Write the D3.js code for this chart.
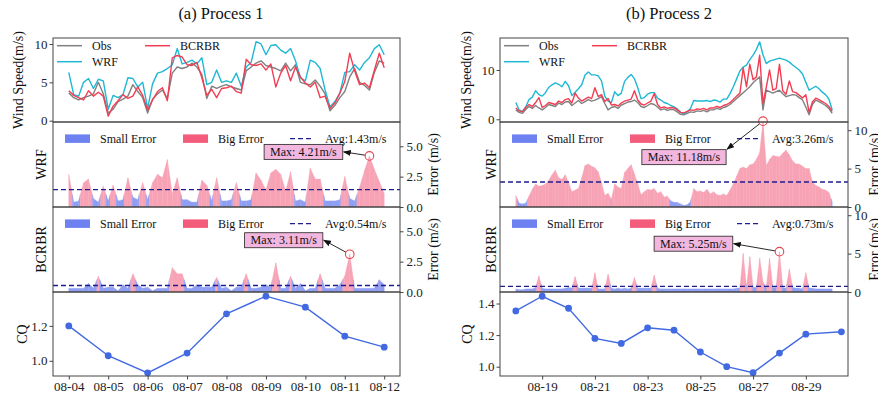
<!DOCTYPE html>
<html lang='en'>
<head>
	<meta charset='UTF-8'>
	<title>Process 1 / Process 2</title>
	<style>
		body { margin: 0; background: #fff; }
	</style>
</head>
<body>

<svg></svg>

<script src='https://d3js.org/d3.v7.min.js'></script>
<script>
// ---- data (3-hourly wind speed, m/s) ----
const startA = '2021-08-04 00:00'
const obsA = [3.6,3.0,2.7,3.0,3.2,3.5,5.0,3.5,1.0,1.5,2.5,2.8,3.2,4.7,3.8,3.0,1.0,2.8,3.5,4.0,2.9,6.2,7.0,6.8,7.0,
    7.5,7.0,6.0,2.9,4.5,4.2,4.5,4.7,4.4,4.2,4.0,6.5,7.0,7.5,7.8,7.2,7.0,6.8,6.5,7.5,6.5,7.3,5.0,4.8,
    4.7,5.3,4.5,3.5,1.3,2.0,3.0,3.8,5.7,6.8,5.0,4.6,4.0,6.3,7.8,7.5]
const wrfA = [6.3,3.4,3.2,5.0,5.5,4.2,5.4,5.2,1.5,3.3,3.0,3.4,5.6,5.5,4.4,5.0,1.6,4.8,6.2,6.4,6.8,7.3,9.4,7.4,7.6,
    7.9,7.4,8.2,4.7,5.0,6.6,5.0,5.2,5.0,6.2,4.5,7.0,7.6,10.3,10.0,8.6,9.8,9.9,9.2,8.8,9.4,7.8,5.6,5.2,
    7.9,7.6,6.8,4.0,1.8,2.5,3.6,6.3,6.4,7.3,6.6,7.6,8.2,9.4,9.9,8.6]
const bcrbrA = [3.9,3.3,3.0,2.7,3.9,3.2,3.7,3.2,0.6,1.9,2.6,3.4,2.9,3.2,4.4,3.3,1.4,2.7,3.8,4.3,2.6,8.2,8.5,8.3,7.3,
    7.2,7.6,5.6,3.3,4.1,3.0,4.2,4.3,4.5,3.8,3.6,8.0,7.3,7.2,7.4,6.6,7.4,4.4,6.2,7.2,5.2,7.0,5.7,4.9,
    4.4,5.0,3.0,3.2,1.6,2.3,3.6,5.1,8.8,6.5,4.7,4.9,4.3,6.6,8.8,6.9]

const startB = '2021-08-18 00:00'
const obsB = [1.9,1.4,1.2,2.0,2.6,2.2,2.8,2.3,1.9,2.4,
    3.0,2.8,2.6,3.3,3.0,3.5,3.6,2.8,3.3,3.8,
    3.2,3.6,4.0,3.7,3.9,4.2,4.6,3.2,1.9,2.4,
    2.6,2.2,2.9,3.2,3.5,3.6,3.9,3.4,2.6,2.4,
    2.8,3.2,3.0,2.5,1.9,2.1,1.8,2.0,1.9,1.5,
    1.0,0.9,1.2,1.5,1.4,1.7,1.6,1.8,1.5,1.9,
    1.9,2.2,2.0,2.4,2.6,3.0,3.6,4.2,4.8,5.4,
    6.0,6.6,7.4,8.0,8.6,1.9,5.9,5.6,5.3,5.6,
    5.9,5.2,4.6,4.8,5.0,4.9,4.4,3.9,2.5,0.9,
    3.0,3.9,3.6,3.2,2.8,2.2,1.2]
const wrfB = [3.4,1.9,1.6,2.5,4.0,4.5,5.8,5.0,4.7,5.4,
    6.5,7.0,7.4,7.1,6.6,7.7,6.8,4.8,5.5,6.2,
    7.0,9.0,9.6,9.0,9.0,8.8,7.8,4.7,3.7,3.4,
    5.6,4.8,5.3,7.7,8.5,9.1,8.2,6.4,4.2,4.4,
    5.1,5.4,5.4,4.3,3.9,3.4,3.2,2.8,2.5,2.1,
    1.4,1.1,1.5,2.2,3.8,3.7,3.7,3.7,3.8,3.6,
    3.9,3.8,3.5,4.1,4.1,5.2,6.6,8.2,9.8,10.6,
    11.0,12.1,13.0,14.2,15.7,13.1,11.3,11.8,12.0,12.2,
    12.4,12.2,12.0,11.6,11.0,10.5,10.0,9.2,7.5,5.9,
    6.3,6.7,6.2,5.5,5.0,4.1,1.9]
const bcrbrB = [2.3,1.7,1.5,2.4,3.0,2.6,3.4,4.4,2.4,2.8,
    3.4,3.2,3.0,3.7,3.4,4.0,4.2,3.3,5.3,4.3,
    3.7,4.1,4.5,4.2,6.4,4.6,5.0,3.6,4.2,2.9,
    3.0,2.7,3.3,3.7,3.9,4.1,5.8,3.9,3.1,2.9,
    3.3,3.7,5.2,3.0,2.3,2.5,2.2,2.4,2.3,1.9,
    1.4,1.3,1.6,1.9,1.8,2.1,2.0,2.2,1.9,2.3,
    2.3,2.6,2.4,2.8,3.0,3.4,4.0,4.7,5.3,10.4,
    6.6,11.2,8.0,8.6,13.0,3.2,6.5,10.0,5.9,6.2,
    11.15,5.8,5.1,7.8,5.6,5.4,4.9,4.3,5.0,1.4,
    3.5,4.3,4.0,3.6,3.2,2.6,1.6]

// average errors (WRF, BCRBR) and maxima
const avgA = [1.43, 0.54]
const avgB = [3.26, 0.73]
const maxTimesA = ['2021-08-11 15:00', '2021-08-11 03:00']
const maxValuesA = [4.21, 3.11]
const maxTimesB = ['2021-08-27 09:00', '2021-08-28 00:00']
const maxValuesB = [11.18, 5.25]
const bigErrorThreshold = 1.0

// daily CQ
const cqDatesA = ['2021-08-04 00:00','2021-08-05 00:00','2021-08-06 00:00','2021-08-07 00:00','2021-08-08 00:00',
    '2021-08-09 00:00','2021-08-10 00:00','2021-08-11 00:00','2021-08-12 00:00']
const cqA = [1.200, 1.029, 0.931, 1.044, 1.269, 1.370, 1.307, 1.141, 1.078]
const cqDatesB = ['2021-08-18 00:00','2021-08-19 00:00','2021-08-20 00:00','2021-08-21 00:00','2021-08-22 00:00',
    '2021-08-23 00:00','2021-08-24 00:00','2021-08-25 00:00','2021-08-26 00:00','2021-08-27 00:00',
    '2021-08-28 00:00','2021-08-29 00:00','2021-08-30 08:24']
const cqB = [1.353, 1.446, 1.370, 1.179, 1.147, 1.246, 1.231, 1.093, 1.000, 0.962, 1.086, 1.206, 1.221]

const tickDatesA = ['08-04','08-05','08-06','08-07','08-08','08-09','08-10','08-11','08-12']
const tickDatesB = ['08-19','08-21','08-23','08-25','08-27','08-29']

// ---- layout ----
const width = 878
const height = 397
const rows = [38, 122, 207, 292, 376]
const font = "'Liberation Serif', 'Times New Roman', serif"
const axisColor = '#444'
const colors = { Obs: '#808080', WRF: '#1fb8d4', BCRBR: '#f23d52' }
const smallFill = '#8e9ef3', bigFill = '#f7a3b5'
const smallPatch = '#6d82f0', bigPatch = '#f45c7c'
const avgColor = '#1d1d8f'
const cqColor = '#4169e1'

const parseTime = d3.timeParse('%Y-%m-%d %H:%M')

const svg = d3.select('svg')
    .attr('width', width)
    .attr('height', height)
    .style('background', '#fff')

svg.append('defs').append('marker')
    .attr('id', 'arrowhead')
    .attr('markerUnits', 'userSpaceOnUse')
    .attr('markerWidth', 8).attr('markerHeight', 6)
    .attr('refX', 7).attr('refY', 3)
    .attr('orient', 'auto')
    .append('path').attr('d', 'M0,0 L8,3 L0,6 Z').attr('fill', '#111')

function styleAxis(sel, size) {
    sel.attr('font-family', font).attr('font-size', size || 13).attr('color', axisColor)
    sel.select('.domain').remove()
    sel.selectAll('text').attr('fill', '#222')
}

function label(g, text, x, y, size, rotate) {
    const t = g.append('text')
        .attr('font-family', font)
        .attr('font-size', size)
        .attr('fill', '#111')
        .attr('text-anchor', 'middle')
        .text(text)
    if (rotate) t.attr('transform', `translate(${x},${y}) rotate(-90)`)
    else t.attr('x', x).attr('y', y)
    return t
}

// split each interval at the threshold so colour follows the error level
function errorPieces(dates, err, thr) {
    const pieces = []
    for (let i = 0; i < err.length - 1; i++) {
        const t0 = +dates[i], t1 = +dates[i + 1]
        const e0 = err[i], e1 = err[i + 1]
        const b0 = e0 > thr, b1 = e1 > thr
        if (b0 === b1) {
            pieces.push({ ta: t0, ea: e0, tb: t1, eb: e1, big: b0 })
        } else {
            const f = (thr - e0) / (e1 - e0)
            const tm = t0 + f * (t1 - t0)
            pieces.push({ ta: t0, ea: e0, tb: tm, eb: thr, big: b0 })
            pieces.push({ ta: tm, ea: thr, tb: t1, eb: e1, big: b1 })
        }
    }
    return pieces
}

function drawProcess(p) {
    const n = p.obs.length
    const t0 = parseTime(p.start)
    const dates = d3.range(n).map(i => d3.timeHour.offset(t0, i * 3))
    const span = dates[n - 1] - dates[0]
    const x = d3.scaleTime()
        .domain([new Date(+dates[0] - span * 0.05), new Date(+dates[n - 1] + span * 0.05)])
        .range([p.left, p.right])
    const w = p.right - p.left
    const g = svg.append('g')

    label(g, p.title, p.titleX, 19, 16.5)

    // clip paths per panel
    const defs = svg.select('defs')
    rows.slice(0, 4).forEach((top, k) => {
        defs.append('clipPath').attr('id', `clip-${p.id}-${k}`)
            .append('rect').attr('x', p.left).attr('y', top).attr('width', w).attr('height', rows[k + 1] - top)
    })

    // ---- wind speed panel ----
    const ySpeed = d3.scaleLinear().domain(p.speedDomain).range([rows[1], rows[0]])
    const speedSeries = [
        { name: 'Obs', values: p.obs },
        { name: 'WRF', values: p.wrf },
        { name: 'BCRBR', values: p.bcrbr }
    ]
    const line = d3.line().x((d, i) => x(dates[i])).y(d => ySpeed(d))
    g.append('g').attr('clip-path', `url(#clip-${p.id}-0)`)
        .selectAll('path').data(speedSeries).join('path')
        .attr('d', d => line(d.values))
        .attr('fill', 'none')
        .attr('stroke', d => colors[d.name])
        .attr('stroke-width', 1.4)
        .attr('stroke-linejoin', 'round')

    g.append('g').attr('transform', `translate(${p.left},0)`)
        .call(d3.axisLeft(ySpeed).tickValues(p.speedTicks).tickFormat(d3.format('d')).tickSize(3.5).tickPadding(2))
        .call(styleAxis)
    label(g, 'Wind Speed(m/s)', p.speedLabelX, (rows[0] + rows[1]) / 2, 14, true)

    // legend of speeds (2 columns)
    const legendPos = { Obs: [0, 0], WRF: [0, 1], BCRBR: [1, 0] }
    speedSeries.forEach(s => {
        const [c, r] = legendPos[s.name]
        const lx = p.left + 4 + c * 88
        const ly = rows[0] + 7.7 + r * 16
        g.append('line').attr('x1', lx).attr('x2', lx + 25).attr('y1', ly).attr('y2', ly)
            .attr('stroke', colors[s.name]).attr('stroke-width', 1.5)
        g.append('text').attr('x', lx + 35).attr('y', ly + 4)
            .attr('font-family', font).attr('font-size', 12).attr('fill', '#111').text(s.name)
    })

    // ---- error panels ----
    const errDefs = [
        { name: 'WRF', model: p.wrf, avg: p.avg[0], maxTime: p.maxTimes[0], maxValue: p.maxValues[0], top: rows[1], k: 1 },
        { name: 'BCRBR', model: p.bcrbr, avg: p.avg[1], maxTime: p.maxTimes[1], maxValue: p.maxValues[1], top: rows[2], k: 2 }
    ]
    errDefs.forEach((e, j) => {
        const bottom = rows[e.k + 1]
        const yErr = d3.scaleLinear().domain(p.errDomain).range([bottom, e.top])
        const err = e.model.map((v, i) => Math.abs(v - p.obs[i]))
        const pieces = errorPieces(dates, err, bigErrorThreshold)
        const area = d3.area().x(d => x(d[0])).y0(yErr(0)).y1(d => yErr(d[1]))
        g.append('g').attr('clip-path', `url(#clip-${p.id}-${e.k})`)
            .selectAll('path').data(pieces).join('path')
            .attr('d', s => area([[s.ta, s.ea], [s.tb, s.eb]]))
            .attr('fill', s => s.big ? bigFill : smallFill)
            .attr('stroke', s => s.big ? bigFill : smallFill)
            .attr('stroke-width', 0.4)

        // avg line
        g.append('line')
            .attr('x1', p.left).attr('x2', p.right)
            .attr('y1', yErr(e.avg)).attr('y2', yErr(e.avg))
            .attr('stroke', avgColor).attr('stroke-width', 1.4).attr('stroke-dasharray', '5,3')

        // right axis
        g.append('g').attr('transform', `translate(${p.right},0)`)
            .call(d3.axisRight(yErr).tickValues(p.errTicks).tickFormat(d3.format(p.errFormat)).tickSize(3.5).tickPadding(3))
            .call(styleAxis)
        label(g, 'Error (m/s)', p.errLabelX, (e.top + bottom) / 2, 14, true)
        label(g, e.name, p.errNameX, (e.top + bottom) / 2, 14, true)

        // legend row
        const ly = e.top + 16.6
        const lg = g.append('g').attr('font-family', font).attr('font-size', 12)
        lg.append('rect').attr('x', p.left + 12).attr('y', ly - 4.2).attr('width', 25).attr('height', 8.5).attr('fill', smallPatch)
        lg.append('text').attr('x', p.left + 47).attr('y', ly + 4).attr('fill', '#111').text('Small Error')
        lg.append('rect').attr('x', p.left + 130).attr('y', ly - 4.2).attr('width', 25).attr('height', 8.5).attr('fill', bigPatch)
        lg.append('text').attr('x', p.left + 165).attr('y', ly + 4).attr('fill', '#111').text('Big Error')
        lg.append('line').attr('x1', p.left + 237).attr('x2', p.left + 260).attr('y1', ly).attr('y2', ly)
            .attr('stroke', avgColor).attr('stroke-width', 1.4).attr('stroke-dasharray', '5,3')
        lg.append('text').attr('x', p.left + 272).attr('y', ly + 4).attr('fill', '#111').text(`Avg:${e.avg.toFixed(2)}m/s`)

        // max annotation
        const cx = x(parseTime(e.maxTime))
        const cy = yErr(e.maxValue)
        const off = p.annOffsets[j]
        const bx = cx + off[0], by = cy + off[1]
        const txt = g.append('text').attr('x', bx).attr('y', by + 4)
            .attr('text-anchor', 'middle').attr('font-family', font).attr('font-size', 12).attr('fill', '#111')
            .text(`Max: ${e.maxValue.toFixed(2)}m/s`)
        const tw = txt.node().getComputedTextLength()
        const bw = tw + 12, bh = 15
        g.insert('rect', () => txt.node())
            .attr('x', bx - bw / 2).attr('y', by - bh / 2).attr('width', bw).attr('height', bh)
            .attr('fill', '#f3b6df').attr('stroke', '#222').attr('stroke-width', 0.8)
        const ex = bx + bw / 2 + 1, ey = by + off[2]
        const ang = Math.atan2(ey - cy, ex - cx)
        g.append('line')
            .attr('x1', cx + 4.3 * Math.cos(ang)).attr('y1', cy + 4.3 * Math.sin(ang))
            .attr('x2', ex).attr('y2', ey)
            .attr('stroke', '#111').attr('stroke-width', 0.9)
            .attr('marker-end', 'url(#arrowhead)')
        g.append('circle').attr('cx', cx).attr('cy', cy).attr('r', 4.3)
            .attr('fill', 'none').attr('stroke', '#e8424a').attr('stroke-width', 1.1)
    })

    // ---- CQ panel ----
    const yCQ = d3.scaleLinear().domain(p.cqDomain).range([rows[4], rows[3]])
    const cqPts = p.cqDates.map((d, i) => ({ date: parseTime(d), v: p.cq[i] }))
    g.append('path').datum(cqPts)
        .attr('d', d3.line().x(d => x(d.date)).y(d => yCQ(d.v)))
        .attr('fill', 'none').attr('stroke', cqColor).attr('stroke-width', 1.4)
    g.append('g').selectAll('circle').data(cqPts).join('circle')
        .attr('cx', d => x(d.date)).attr('cy', d => yCQ(d.v)).attr('r', 3.4)
        .attr('fill', cqColor)
    g.append('g').attr('transform', `translate(${p.left},0)`)
        .call(d3.axisLeft(yCQ).tickValues(p.cqTicks).tickFormat(d3.format('.1f')).tickSize(3.5).tickPadding(2))
        .call(styleAxis)
    label(g, 'CQ', p.cqLabelX, (rows[3] + rows[4]) / 2, 14, true)

    const tickDates = p.tickDates.map(s => parseTime(`2021-${s} 00:00`))
    g.append('g').attr('transform', `translate(0,${rows[4]})`)
        .call(d3.axisBottom(x).tickValues(tickDates).tickFormat(d3.timeFormat('%m-%d')).tickSize(3.5).tickPadding(2))
        .call(styleAxis)

    // frames
    rows.slice(0, 4).forEach((top, k) => {
        g.append('rect').attr('x', p.left).attr('y', top).attr('width', w).attr('height', rows[k + 1] - top)
            .attr('fill', 'none').attr('stroke', axisColor).attr('stroke-width', 1)
    })
}

drawProcess({
    id: 'a', title: '(a) Process 1', titleX: 221, left: 53, right: 400,
    start: startA, obs: obsA, wrf: wrfA, bcrbr: bcrbrA,
    speedDomain: [-0.17, 10.78], speedTicks: [0, 5, 10], speedLabelX: 22.5,
    errDomain: [0, 7], errTicks: [0, 2.5, 5], errFormat: '.1f', errLabelX: 437.5, errNameX: 45.5,
    avg: avgA, maxTimes: maxTimesA, maxValues: maxValuesA,
    annOffsets: [[-66, -4, 0], [-66, -14, 0]],
    cqDates: cqDatesA, cq: cqA, cqDomain: [0.913, 1.394], cqTicks: [1.0, 1.2], cqLabelX: 26.5,
    tickDates: tickDatesA
})

drawProcess({
    id: 'b', title: '(b) Process 2', titleX: 669, left: 500, right: 848,
    start: startB, obs: obsB, wrf: wrfB, bcrbr: bcrbrB,
    speedDomain: [-0.55, 16.49], speedTicks: [0, 10], speedLabelX: 470.5,
    errDomain: [0, 11.07], errTicks: [0, 5, 10], errFormat: 'd', errLabelX: 879, errNameX: 495.5,
    avg: avgB, maxTimes: maxTimesB, maxValues: maxValuesB,
    annOffsets: [[-79, 36, -8], [-86, -8, 0]],
    cqDates: cqDatesB, cq: cqB, cqDomain: [0.941, 1.473], cqTicks: [1.0, 1.2, 1.4], cqLabelX: 471.5,
    tickDates: tickDatesB
})
</script>
</body>
</html>
